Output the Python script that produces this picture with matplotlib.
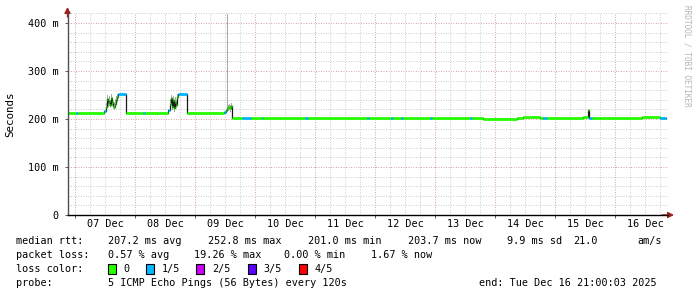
import matplotlib
matplotlib.use('Agg')
import matplotlib.pyplot as plt
from matplotlib.patches import Rectangle
import matplotlib.transforms as mtransforms

plt.rcParams['lines.scale_dashes'] = False
plt.rcParams['font.family'] = ['DejaVu Sans Mono']

# ---------------- data (hours since Dec 06 21:00, 10 day window) ----------------
seg_start_h = [0, 3.4, 4.2, 14.6,
               15.4, 15.8, 16.2, 16.6, 17.0, 17.4, 17.8, 18.2, 18.6, 19.0, 19.4, 19.8,
               20.2, 23.4, 30.2, 31.0, 40.2,
               41.0, 41.4, 41.8, 42.2, 42.6, 43.0, 43.4, 43.8,
               44.2, 47.8, 62.6, 63.4, 63.8, 64.2, 64.6, 65.0, 65.4,
               65.8, 69.8, 73.4, 77.8, 78.2, 95.0, 96.2, 119.8, 120.6, 129.4, 130.2,
               133.4, 134.2, 145.0, 145.8, 161.0, 161.8, 166.2, 179.8, 182.2, 189.0,
               190.2, 191.8, 206.2, 208.2, 208.6, 209.8, 213.0, 229.8, 237.0]
seg_end_h = 239.4
median_ms = [213, 213, 213, 217,
             226, 242, 234, 238, 230, 244, 236, 228, 226, 232, 240, 246,
             252, 213, 213, 213, 218,
             232, 244, 226, 240, 222, 236, 230, 246,
             252, 213, 215, 218, 222, 224, 226, 222, 227,
             202, 202, 202, 202, 202, 202, 202, 202, 202, 202, 202,
             202, 202, 202, 202, 202, 202, 200.5, 202, 205, 202,
             202, 202, 204.5, 218, 202, 202, 202, 204.5, 202]
loss_idx = [0, 1, 0, 1,
            0, 0, 0, 0, 0, 0, 0, 0, 0, 0, 0, 0,
            1, 0, 1, 0, 1,
            0, 0, 0, 0, 0, 0, 0, 0,
            1, 0, 1, 0, 0, 0, 0, 0, 0,
            0, 1, 0, 1, 0, 1, 0, 1, 0, 1, 0,
            1, 0, 1, 0, 1, 0, 0, 0, 0, 0,
            1, 0, 0, 0, 1, 0, 0, 0, 1]

smoke_t = [15.4, 15.8, 16.2, 16.6, 17.0, 17.4, 17.8, 18.2, 18.6, 19.0, 19.4, 19.8,
           41.0, 41.4, 41.8, 42.2, 42.6, 43.0, 43.4, 43.8,
           63.8, 64.2, 64.6, 65.0, 65.4]
smoke_lo = [220, 232, 226, 228, 222, 234, 228, 220, 219, 224, 232, 236,
            224, 234, 218, 230, 215, 226, 222, 236,
            214, 216, 218, 215, 218]
smoke_hi = [234, 250, 244, 248, 240, 252, 246, 236, 234, 242, 248, 252,
            242, 250, 238, 248, 234, 246, 240, 252,
            418, 230, 232, 230, 234]

loss_colors = ['#26ff00', '#00b8ff', '#cc00ff', '#5c00ff', '#ff0000']
loss_labels = ['0', '1/5', '2/5', '3/5', '4/5']

day_labels = ['07 Dec', '08 Dec', '09 Dec', '10 Dec', '11 Dec',
              '12 Dec', '13 Dec', '14 Dec', '15 Dec', '16 Dec']
y_major = [0, 100, 200, 300, 400]

# ---------------- figure ----------------
W, H, DPI = 697, 297, 100
fig = plt.figure(figsize=(W / DPI, H / DPI), dpi=DPI)
fig.patch.set_facecolor('white')
L, R, B, T = 67.5, 668, 215, 13
ax = fig.add_axes([L / W, 1 - B / H, (R - L) / W, (B - T) / H])
ax.set_facecolor('white')
ax.set_xlim(0, 240)
ax.set_ylim(0, (B - T) / 0.48)

# grid
gkw = dict(lw=0.72, dashes=(0.72, 1.08))
midnights = [3 + 24 * k for k in range(10)]
sixh = [h for h in range(3, 240, 6) if h not in midnights]
for h in sixh:
    ax.axvline(h, color='#cfcfcf', zorder=0, **gkw)
for h in midnights:
    ax.axvline(h, color='#dba6a6', zorder=0.5, **gkw)
for v in range(20, 430, 20):
    if v % 100:
        ax.axhline(v, color='#cfcfcf', zorder=0, **gkw)
for v in y_major[1:]:
    ax.axhline(v, color='#dba6a6', zorder=0.5, **gkw)

# smoke
for t, lo, hi in zip(smoke_t, smoke_lo, smoke_hi):
    ax.fill_between([t, t + 0.4], [lo, lo], [hi, hi], color='#a8a8a8', lw=0, zorder=1)

# median line: black transitions + loss-coloured segments
xs = seg_start_h + [seg_end_h]
ys = median_ms + [median_ms[-1]]
ax.step(xs, ys, where='post', color='#1a1a1a', lw=0.9, zorder=2)
ends = seg_start_h[1:] + [seg_end_h]
for s, e, m, li in zip(seg_start_h, ends, median_ms, loss_idx):
    ax.hlines(m, s, e, color=loss_colors[li], lw=2.0, zorder=3)

# axes decoration
for sp in ax.spines.values():
    sp.set_visible(False)
ax.set_xticks(midnights)
ax.set_xticklabels([])
ax.set_yticks(y_major)
ax.set_yticklabels([f'{v} m' if v else '0' for v in y_major])
ax.tick_params(axis='x', length=2.5, width=0.72, color='#606060', direction='out')
ax.tick_params(axis='y', length=2, width=0.72, color='#606060', direction='out',
               labelsize=7.3, pad=4.5, labelcolor='#000000')
for k, lab in enumerate(day_labels):
    ax.text(15 + 24 * k, -9 / 0.48, lab, ha='center', va='center', fontsize=7.3)

# axis lines with arrows
up = mtransforms.offset_copy(ax.transAxes, fig=fig, x=0, y=6, units='dots')
rt = mtransforms.offset_copy(ax.transAxes, fig=fig, x=6, y=0, units='dots')
ax.plot([0, 0], [0, 1], transform=ax.transAxes, color='#505050', lw=1.0, clip_on=False, zorder=5)
ax.plot([0, 1], [0, 0], transform=ax.transAxes, color='#000000', lw=1.0, clip_on=False, zorder=5)
ax.annotate('', xy=(0, 1), xycoords=up, xytext=(0, 0.98), textcoords=ax.transAxes,
            arrowprops=dict(arrowstyle='-|>,head_length=0.35,head_width=0.18',
                            color='#a02020', lw=1.0, shrinkA=0, shrinkB=0))
ax.annotate('', xy=(1, 0), xycoords=rt, xytext=(0.99, 0), textcoords=ax.transAxes,
            arrowprops=dict(arrowstyle='-|>,head_length=0.35,head_width=0.18',
                            color='#a02020', lw=1.0, shrinkA=0, shrinkB=0))

# labels
def ftext(x, y, s, **kw):
    kw.setdefault('fontsize', 7.3)
    kw.setdefault('va', 'center')
    kw.setdefault('ha', 'left')
    fig.text(x / W, 1 - y / H, s, **kw)

ftext(10, 114, 'Seconds', rotation=90, ha='center', fontsize=7.8)
ftext(687, 5, 'RRDTOOL / TOBI OETIKER', rotation=270, ha='center', va='top',
      fontsize=5.6, color='#b4b4b4')

ftext(16, 241, 'median rtt:')
for x, s in [(107.6, '207.2 ms avg'), (207.6, '252.8 ms max'), (307.6, '201.0 ms min'),
             (407.6, '203.7 ms now'), (506.7, '9.9 ms sd'), (573, '21.0'), (637.8, 'am/s')]:
    ftext(x, 241, s)
ftext(16, 255, 'packet loss:')
for x, s in [(107.6, '0.57 % avg'), (193.8, '19.26 % max'), (284.4, '0.00 % min'),
             (371, '1.67 % now')]:
    ftext(x, 255, s)
ftext(16, 269, 'loss color:')
box_x = [108, 145.8, 196.4, 247.5, 298.7]
for bx, c, lab in zip(box_x, loss_colors, loss_labels):
    fig.patches.append(Rectangle((bx / W, 1 - 274 / H), 8 / W, 10 / H,
                                 transform=fig.transFigure, facecolor=c,
                                 edgecolor='black', lw=0.8))
    ftext(bx + 15.5, 269, lab)
ftext(16, 283, 'probe:')
ftext(107.6, 283, '5 ICMP Echo Pings (56 Bytes) every 120s')
ftext(478.7, 283, 'end: Tue Dec 16 21:00:03 2025')

fig.savefig('out.png', dpi=DPI, facecolor='white')
